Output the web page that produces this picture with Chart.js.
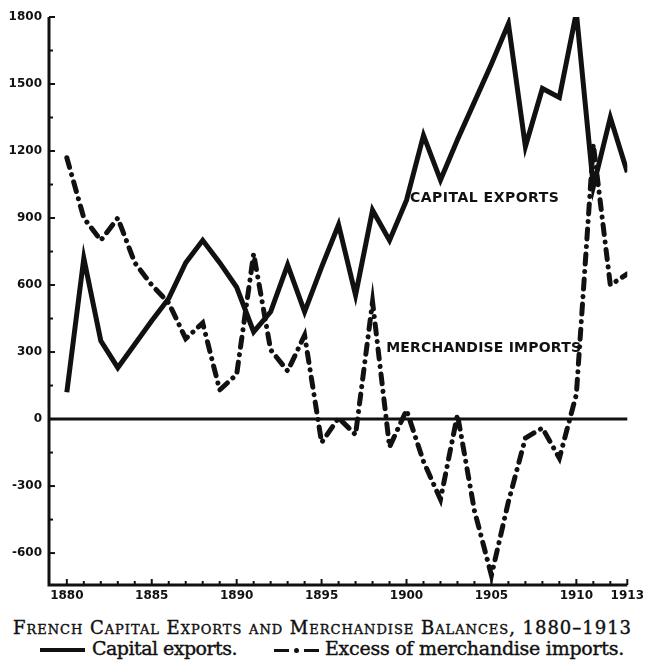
<!DOCTYPE html>
<html lang="en">
<head>
    <meta charset="UTF-8">
    <title>French Capital Exports and Merchandise Balances, 1880-1913</title>
    <script src="https://cdn.jsdelivr.net/npm/chart.js/dist/chart.umd.min.js"></script>
    <style>
        body {
            margin: 0;
            background: #fff;
            width: 648px;
            height: 672px;
            overflow: hidden;
            position: relative;
        }
        #chart-container {
            position: relative;
            width: 648px;
            height: 604px;
        }
        .caption {
            font-family: "DejaVu Serif", "Liberation Serif", serif;
            color: #111;
            white-space: nowrap;
            position: absolute;
            -webkit-text-stroke: 0.4px #111;
        }
        #title {
            top: 619px;
            left: 13px;
            font-size: 18px;
            line-height: 18px;
            font-variant: small-caps;
        }
        .legend-text {
            top: 638px;
            font-size: 19px;
            line-height: 20px;
        }
        .swatch {
            position: absolute;
            height: 0;
            border-top: 4px solid #111;
        }
        .dot {
            position: absolute;
            width: 5px;
            height: 5px;
            border-radius: 50%;
            background: #111;
        }
    </style>
</head>
<body>
    <div id="chart-container">
        <canvas id="balanceChart"></canvas>
    </div>
    <div class="caption" id="title">French Capital Exports and Merchandise Balances, 1880–1913</div>
    <span class="swatch" style="left:40px; top:648px; width:45px;"></span>
    <div class="caption legend-text" id="leg1" style="left:92px;">Capital exports.</div>
    <span class="swatch" style="left:274px; top:649px; width:15px; border-top-width:3px;"></span>
    <span class="dot" style="left:294px; top:648px;"></span>
    <span class="swatch" style="left:304px; top:649px; width:15px; border-top-width:3px;"></span>
    <div class="caption legend-text" id="leg2" style="left:325px;">Excess of merchandise imports.</div>

<script>
// data (millions of francs)
const years = [1880, 1881, 1882, 1883, 1884, 1885, 1886, 1887, 1888, 1889,
               1890, 1891, 1892, 1893, 1894, 1895, 1896, 1897, 1898, 1899,
               1900, 1901, 1902, 1903, 1904, 1905, 1906, 1907, 1908, 1909,
               1910, 1911, 1912, 1913];
const capitalExports = [120, 720, 350, 230, 335, 440, 540, 700, 800, 700,
                        590, 390, 480, 690, 480, 680, 870, 555, 935, 800,
                        980, 1270, 1070, 1250, 1420, 1590, 1770, 1220, 1480, 1440,
                        1820, 1040, 1350, 1105];
const merchandiseImports = [1170, 900, 800, 900, 700, 600, 520, 360, 430, 130,
                            200, 740, 310, 215, 375, -105, 5, -70, 525, -125,
                            40, -190, -360, 20, -410, -700, -370, -85, -40, -175,
                            110, 1230, 600, 650];

// axis ticks
const xLabelYears = [1880, 1885, 1890, 1895, 1900, 1905, 1910, 1913];
const yTicks = [-600, -450, -300, -150, 0, 150, 300, 450, 600, 750, 900, 1050, 1200, 1350, 1500, 1650, 1800];
const yLabels = [-600, -300, 0, 300, 600, 900, 1200, 1500, 1800];

const ink = '#111';

// stretch the caption lines to the width they have in the printed figure
function fitWidth(id, target) {
  const el = document.getElementById(id);
  const n = el.textContent.length;
  const w = el.getBoundingClientRect().width;
  el.style.letterSpacing = ((target - w) / n) + 'px';
}
fitWidth('title', 619);
fitWidth('leg1', 145);
fitWidth('leg2', 299);

// inward tick marks, zero line and the line names
const axisDecor = {
  id: 'axisDecor',
  afterDraw(chart) {
    const { ctx, chartArea: { left, right, top, bottom }, scales: { x, y } } = chart;
    ctx.save();
    ctx.strokeStyle = ink;
    ctx.lineCap = 'butt';

    // axes
    ctx.lineWidth = 3;
    ctx.beginPath();
    ctx.moveTo(left, top);
    ctx.lineTo(left, bottom);
    ctx.lineTo(right, bottom);
    ctx.stroke();

    // zero line
    const y0 = y.getPixelForValue(0);
    ctx.beginPath();
    ctx.moveTo(left, y0);
    ctx.lineTo(right, y0);
    ctx.stroke();

    ctx.lineWidth = 2;
    y.ticks.forEach(t => {
      const py = y.getPixelForValue(t.value);
      const len = yLabels.includes(t.value) ? 6 : 4;
      ctx.beginPath();
      ctx.moveTo(left, py);
      ctx.lineTo(left + len, py);
      ctx.stroke();
    });
    x.ticks.forEach(t => {
      const px = x.getPixelForValue(t.value);
      const len = xLabelYears.includes(t.value) ? 6 : 4;
      ctx.beginPath();
      ctx.moveTo(px, bottom);
      ctx.lineTo(px, bottom - len);
      ctx.stroke();
    });

    // series names written on the chart
    ctx.fillStyle = ink;
    ctx.font = 'bold 14px "DejaVu Sans"';
    ctx.letterSpacing = '0.5px';
    ctx.textBaseline = 'middle';
    ctx.textAlign = 'left';
    ctx.fillText('CAPITAL EXPORTS', x.getPixelForValue(1900.2), y.getPixelForValue(990));
    ctx.letterSpacing = '0.2px';
    ctx.fillText('MERCHANDISE IMPORTS', x.getPixelForValue(1898.8), y.getPixelForValue(315));
    ctx.restore();
  }
};

const data = {
  labels: years,
  datasets: [{
    label: 'Capital exports',
    data: years.map((yr, i) => ({ x: yr, y: capitalExports[i] })),
    borderColor: ink,
    borderWidth: 5,
    pointRadius: 0,
    tension: 0
  }, {
    label: 'Excess of merchandise imports',
    data: years.map((yr, i) => ({ x: yr, y: merchandiseImports[i] })),
    borderColor: ink,
    borderWidth: 5,
    borderDash: [10, 7.5, 0.1, 7.5],
    borderCapStyle: 'round',
    pointRadius: 0,
    tension: 0
  }]
};

const tickFont = { family: '"DejaVu Sans"', size: 12, weight: 'bold' };

const config = {
  type: 'line',
  data,
  options: {
    responsive: true,
    maintainAspectRatio: false,
    animation: false,
    layout: { padding: { left: 0, right: 16, top: 17, bottom: 0 } },
    plugins: {
      legend: { display: false },
      tooltip: { enabled: false }
    },
    scales: {
      x: {
        type: 'linear',
        min: 1878.95,
        max: 1913,
        grid: { display: false, drawTicks: false },
        border: { display: false },
        afterBuildTicks: scale => { scale.ticks = years.map(v => ({ value: v })); },
        afterFit: scale => { scale.height = 19; },
        ticks: {
          autoSkip: false,
          maxRotation: 0,
          padding: 4,
          color: ink,
          font: tickFont,
          callback: v => xLabelYears.includes(v) ? String(v) : ''
        }
      },
      y: {
        min: -743,
        max: 1800,
        grid: { display: false, drawTicks: false },
        border: { display: false },
        afterBuildTicks: scale => { scale.ticks = yTicks.map(v => ({ value: v })); },
        afterFit: scale => { scale.width = 49; },
        ticks: {
          autoSkip: false,
          padding: 7,
          color: ink,
          font: tickFont,
          callback: v => yLabels.includes(v) ? String(v) : ''
        }
      }
    }
  },
  plugins: [axisDecor]
};

const myChart = new Chart(document.getElementById('balanceChart'), config);
</script>
</body>
</html>
